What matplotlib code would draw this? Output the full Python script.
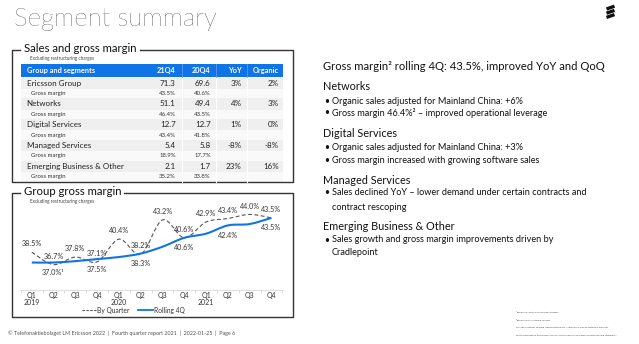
import matplotlib
matplotlib.use("Agg")
import matplotlib.pyplot as plt
from matplotlib.lines import Line2D
from matplotlib.patches import Rectangle, PathPatch
from matplotlib.path import Path
import numpy as np

# ---------------- data ----------------
segments = ["Ericsson Group", "Networks", "Digital Services", "Managed Services", "Emerging Business & Other"]
sales_21q4 = ["71.3", "51.1", "12.7", "5.4", "2.1"]
sales_20q4 = ["69.6", "49.4", "12.7", "5.8", "1.7"]
yoy = ["3%", "4%", "1%", "-8%", "23%"]
organic = ["2%", "3%", "0%", "-8%", "16%"]
gm_21q4 = ["43.5%", "46.4%", "43.4%", "18.9%", "35.2%"]
gm_20q4 = ["40.6%", "43.5%", "41.8%", "17.7%", "33.8%"]
table_header = ["Group and segments", "21Q4", "20Q4", "YoY", "Organic"]

quarters = ["Q1", "Q2", "Q3", "Q4", "Q1", "Q2", "Q3", "Q4", "Q1", "Q2", "Q3", "Q4"]
years = ["2019", "", "", "", "2020", "", "", "", "2021", "", "", ""]
by_quarter = [38.5, 36.7, 37.8, 37.1, 40.4, 38.2, 43.2, 40.6, 42.9, 43.4, 44.0, 43.5]
rolling_4q = [37.0, 37.0, 37.2, 37.5, 37.8, 38.3, 39.3, 40.6, 41.2, 42.4, 42.6, 43.5]
rolling_labels = {1: "37.0%\u00b9", 3: "37.5%", 5: "38.3%", 7: "40.6%", 9: "42.4%", 11: "43.5%"}

title = "Segment summary"
right_lines = [
    ("h", "Gross margin\u00b2 rolling 4Q: 43.5%, improved YoY and QoQ"),
    ("h", "Networks"),
    ("b", "Organic sales adjusted for Mainland China: +6%"),
    ("b", "Gross margin 46.4%\u00b2 \u2013 improved operational leverage"),
    ("h", "Digital Services"),
    ("b", "Organic sales adjusted for Mainland China: +3%"),
    ("b", "Gross margin increased with growing software sales"),
    ("h", "Managed Services"),
    ("b", "Sales declined YoY \u2013 lower demand under certain contracts and"),
    ("c", "contract rescoping"),
    ("h", "Emerging Business & Other"),
    ("b", "Sales growth and gross margin improvements driven by"),
    ("c", "Cradlepoint"),
]
footer = "\u00a9 Telefonaktiebolaget LM Ericsson 2022  |  Fourth quarter report 2021  |  2022-01-25  |  Page 6"
footnotes = [
    "\u00b9Excluding costs for revised BSS strategy",
    "\u00b2Excluding restructuring charges",
    "This slide contains forward looking statements. Actual result may be materially different.",
    "See the last page in this presentation for further information about forward-looking statements",
]

# ---------------- style ----------------
plt.rcParams['font.family'] = ['Lato', 'DejaVu Sans']
W, H = 639, 344
BLUE = "#1174E6"
DARK = "#222222"
fig = plt.figure(figsize=(W / 100, H / 100), dpi=100)
fig.patch.set_facecolor("white")


def fx(x):
    return x / W


def fy(y):
    return 1 - y / H


def ftext(x, y, s, **kw):
    kw.setdefault("va", "center")
    kw.setdefault("color", DARK)
    return fig.text(fx(x), fy(y), s, **kw)


def fline(xs, ys, **kw):
    fig.add_artist(Line2D([fx(v) for v in xs], [fy(v) for v in ys], transform=fig.transFigure, **kw))


def frect(x0, y0, x1, y1, **kw):
    fig.add_artist(Rectangle((fx(x0), fy(y1)), fx(x1) - fx(x0), fy(y0) - fy(y1),
                             transform=fig.transFigure, **kw))


# title
ftext(14, 19, title, fontsize=18.5, fontweight="light", color="#000000")

# logo (three slanted bars)
for dy in (0, 4.2, 8.4):
    fline([606.5, 614.5], [9.0 + dy, 6.2 + dy], color="#111111", lw=2.4, solid_capstyle="butt")


def framed_box(x0, y0, x1, y1, label, gap_end):
    kw = dict(color="#333333", lw=1.0)
    fline([x0 + 8, x0, x0, x1, x1, gap_end], [y0, y0, y1, y1, y0, y0], **kw)
    ftext(x0 + 12.5, y0 - 1.0, label, fontsize=8.2, color="#111111")
    ftext(x0 + 18, y0 + 8.5, "Excluding restructuring charges", fontsize=3.3, color="#444444")


# ---- box 1: table ----
framed_box(12, 50, 293, 182, "Sales and gross margin", 140)

tx0, tx1 = 20.7, 283.3
col_right = [175.7, 210.7, 241.7, 278.7]
col_sep = [181.5, 216.0, 246.5]
frect(tx0, 63.5, tx1, 77.0, facecolor=BLUE, edgecolor="none")
for cs in col_sep:
    fline([cs, cs], [63.5, 77.0], color="#5a9bef", lw=0.6)
ftext(26.7, 70.3, table_header[0], fontsize=5.3, color="white", fontweight="bold")
for cr, h in zip(col_right, table_header[1:]):
    ftext(cr, 70.3, h, fontsize=5.3, color="white", fontweight="bold", ha="right")

y0 = 77.5
seg_h, gm_h = 11.3, 9.5
for k, seg in enumerate(segments):
    ys = y0 + k * (seg_h + gm_h)
    frect(tx0, ys, tx1, ys + seg_h, facecolor="#efefef", edgecolor="none")
    frect(tx0, ys + seg_h, tx1, ys + seg_h + gm_h, facecolor="#f9f9f9", edgecolor="none")
    for cs in col_sep:
        fline([cs, cs], [ys, ys + seg_h + gm_h], color="white", lw=0.8)
    cy = ys + seg_h / 2
    ftext(26.7, cy, seg, fontsize=5.8, color="#222222")
    for cr, v in zip(col_right, [sales_21q4[k], sales_20q4[k], yoy[k], organic[k]]):
        ftext(cr, cy, v, fontsize=5.8, color="#222222", ha="right")
    gy = ys + seg_h + gm_h / 2
    ftext(30.7, gy, "Gross margin", fontsize=4.3, color="#333333")
    ftext(col_right[0], gy, gm_21q4[k], fontsize=4.3, color="#333333", ha="right")
    ftext(col_right[1], gy, gm_20q4[k], fontsize=4.3, color="#333333", ha="right")

# ---- box 2: chart ----
framed_box(12, 192.5, 293, 317, "Group gross margin", 124)

ax = fig.add_axes([fx(20), fy(290), fx(283) - fx(20), fy(200) - fy(290)])
ax.set_facecolor("none")
x = np.arange(len(quarters))
ax.set_xlim(-0.54, len(quarters) - 0.47)
ax.set_ylim(33.0, 46.1)


def smooth_path(xs, ys):
    pts = np.column_stack([xs, ys]).astype(float)
    n = len(pts)
    verts = [pts[0]]
    codes = [Path.MOVETO]
    for i in range(n - 1):
        p0 = pts[max(i - 1, 0)]
        p1 = pts[i]
        p2 = pts[i + 1]
        p3 = pts[min(i + 2, n - 1)]
        c1 = p1 + (p2 - p0) / 6.0
        c2 = p2 - (p3 - p1) / 6.0
        verts += [c1, c2, p2]
        codes += [Path.CURVE4] * 3
    return Path(verts, codes)


ax.add_patch(PathPatch(smooth_path(x, by_quarter), facecolor="none", edgecolor="#555555",
                       lw=0.8, linestyle=(0, (3.5, 2.2))))
ax.add_patch(PathPatch(smooth_path(x, rolling_4q), facecolor="none", edgecolor=BLUE, lw=1.5))

for i, v in enumerate(by_quarter):
    ax.annotate(f"{v:.1f}%", (x[i], v), xytext=(0, 6.0), textcoords="offset points",
                ha="center", va="center", fontsize=5.2, color="#333333")
for i, s in rolling_labels.items():
    ax.annotate(s, (x[i], rolling_4q[i]), xytext=(0, -7.2), textcoords="offset points",
                ha="center", va="center", fontsize=5.2, color="#333333")

for sp in ["top", "right", "left"]:
    ax.spines[sp].set_visible(False)
ax.spines["bottom"].set_color("#d8d8d8")
ax.spines["bottom"].set_linewidth(0.6)
ax.set_yticks([])
ax.set_xticks(x)
ax.set_xticklabels([q if not y else f"{q}\n{y}" for q, y in zip(quarters, years)],
                   fontsize=5.0, color="#333333", linespacing=1.0, va="top")
ax.tick_params(axis="x", which="major", length=0, pad=1.5)
ax.set_xticks(np.arange(-0.5, len(quarters), 1.0), minor=True)
ax.tick_params(axis="x", which="minor", length=2.5, color="#d8d8d8", width=0.6)

# legend (manual)
fline([82, 96], [310.0, 310.0], color="#555555", lw=0.8, linestyle=(0, (2.2, 1.3)))
ftext(97, 310.0, "By Quarter", fontsize=4.8, color="#333333")
fline([138, 153], [310.0, 310.0], color=BLUE, lw=1.3)
ftext(153.5, 310.0, "Rolling 4Q", fontsize=4.8, color="#333333")

# ---- right text ----
ypos = [66.7, 86.7, 101.0, 112.7, 133.3, 147.3, 160.7, 180.0, 192.3, 207.3, 226.0, 240.0, 252.7]
for (kind, s), yy in zip(right_lines, ypos):
    if kind == "h":
        ftext(322.7, yy, s, fontsize=8.1 if yy < 70 else 7.8, color="#111111")
    elif kind == "b":
        ftext(324.5, yy, "\u2022", fontsize=6.3, color="#111111")
        ftext(331.7, yy, s, fontsize=6.6, color="#111111")
    else:
        ftext(331.7, yy, s, fontsize=6.6, color="#111111")

# ---- footer ----
ftext(8, 333, footer, fontsize=3.9, color="#555555")
for i, s in enumerate(footnotes):
    ftext(516, 312 + i * 7.7, s, fontsize=1.75, color="#444444")

fig.savefig("out.png", dpi=100, facecolor="white")
